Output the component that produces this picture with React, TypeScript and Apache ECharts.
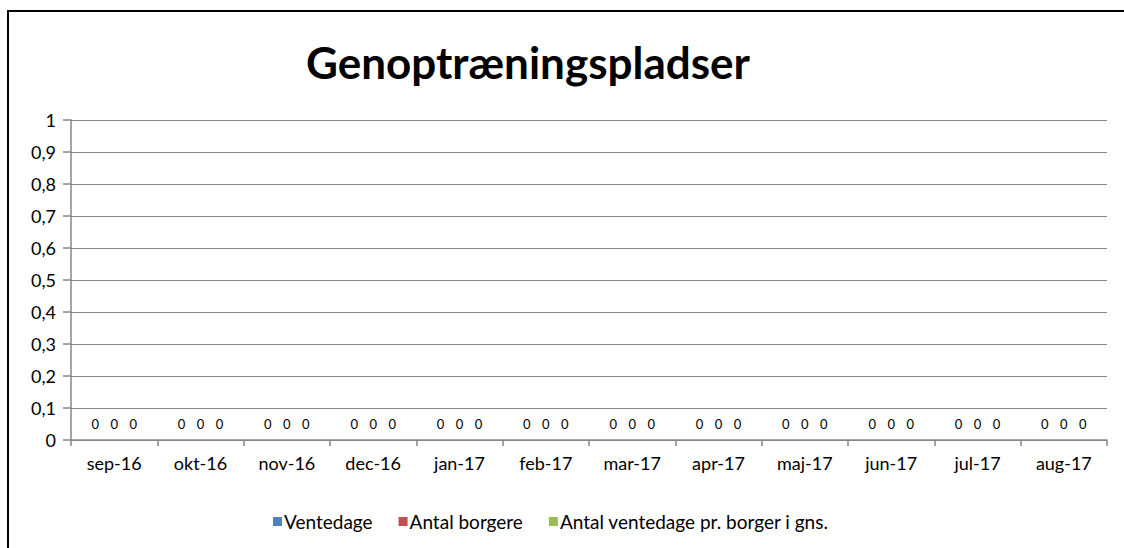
import React, { useEffect, useRef } from "react";
import * as echarts from "echarts";

const categories = ["sep-16", "okt-16", "nov-16", "dec-16", "jan-17", "feb-17", "mar-17", "apr-17", "maj-17", "jun-17", "jul-17", "aug-17"];
const ventedage = [0, 0, 0, 0, 0, 0, 0, 0, 0, 0, 0, 0];
const antalBorgere = [0, 0, 0, 0, 0, 0, 0, 0, 0, 0, 0, 0];
const ventedagePrBorger = [0, 0, 0, 0, 0, 0, 0, 0, 0, 0, 0, 0];
const seriesNames = ["Ventedage", "Antal borgere", "Antal ventedage pr. borger i gns."];
const colors = ["#4F81BD", "#C0504D", "#9BBB59"];

const FONT = "Lato, 'Open Sans', sans-serif";

export default function App() {
  const ref = useRef<HTMLDivElement>(null);
  useEffect(() => {
    document.body.style.margin = "0";
    const chart = echarts.init(ref.current!, null, { renderer: "svg" });
    const mk = (name: string, data: number[], color: string) => ({
      name,
      type: "bar",
      data,
      barGap: "0%",
      barCategoryGap: "34%",
      itemStyle: { color },
      label: {
        show: true,
        position: "top",
        distance: 10,
        fontSize: 13,
        color: "#000",
        fontFamily: FONT,
      },
    });
    chart.setOption({
      animation: false,
      textStyle: { fontFamily: FONT },
      graphic: [
        {
          type: "rect",
          shape: { x: 8, y: 11, width: 1300, height: 700 },
          style: { fill: "none", stroke: "#000", lineWidth: 2 },
          silent: true,
        },
        {
          type: "text",
          x: 528,
          y: 62,
          style: {
            text: "Genoptræningspladser",
            fontSize: 44,
            fontWeight: "bold",
            fontFamily: FONT,
            fill: "#000",
            align: "center",
            verticalAlign: "middle",
          },
        },
      ],
      grid: { left: 71, right: 17, top: 120, bottom: 108, containLabel: false },
      legend: {
        data: seriesNames,
        top: 507,
        left: 268,
        icon: "rect",
        itemWidth: 9,
        itemHeight: 9,
        itemGap: 26,
        textStyle: { fontSize: 19, color: "#000", fontFamily: FONT, padding: [0, 0, 0, -3] },
      },
      xAxis: {
        type: "category",
        data: categories,
        axisLine: { lineStyle: { color: "#868686", width: 1.5 } },
        axisTick: { show: true, length: 6, lineStyle: { color: "#868686", width: 1.5 } },
        axisLabel: { fontSize: 18, color: "#000", margin: 14, fontFamily: FONT },
      },
      yAxis: {
        type: "value",
        min: 0,
        max: 1,
        interval: 0.1,
        axisLine: { show: true, lineStyle: { color: "#868686", width: 1.5 } },
        axisTick: { show: true, length: 8, lineStyle: { color: "#868686", width: 1.5 } },
        splitLine: { lineStyle: { color: "#868686", width: 1.2 } },
        axisLabel: {
          fontSize: 18,
          color: "#000",
          margin: 15,
          fontFamily: FONT,
          formatter: (v: number) => (v === 0 || v === 1 ? String(v) : v.toFixed(1).replace(".", ",")),
        },
      },
      series: [
        mk(seriesNames[0], ventedage, colors[0]),
        mk(seriesNames[1], antalBorgere, colors[1]),
        mk(seriesNames[2], ventedagePrBorger, colors[2]),
      ],
    });
    return () => chart.dispose();
  }, []);
  return <div ref={ref} style={{ width: 1124, height: 548 }} />;
}
